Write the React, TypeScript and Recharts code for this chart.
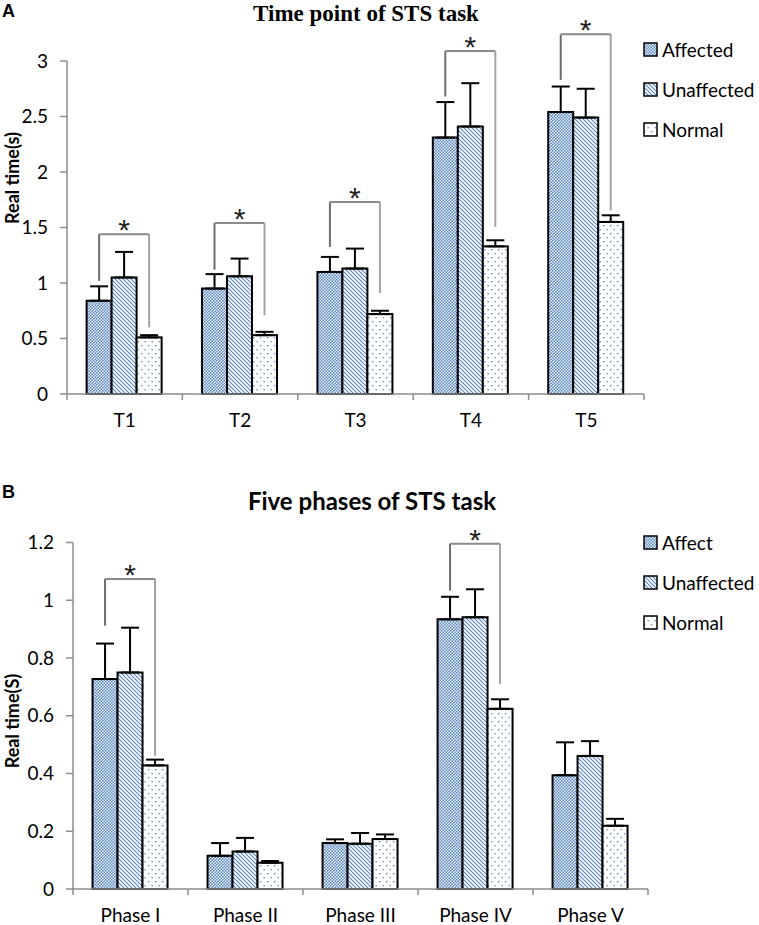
import React from 'react';
import { BarChart, Bar, XAxis, YAxis, ErrorBar } from 'recharts';

// panel A - time points
const timeCategories = ['T1', 'T2', 'T3', 'T4', 'T5'];
const timeAffected = [0.84, 0.95, 1.1, 2.31, 2.54];
const timeAffectedErr = [0.13, 0.13, 0.135, 0.32, 0.23];
const timeUnaffected = [1.05, 1.06, 1.13, 2.41, 2.49];
const timeUnaffectedErr = [0.23, 0.16, 0.18, 0.39, 0.26];
const timeNormal = [0.51, 0.53, 0.72, 1.33, 1.55];
const timeNormalErr = [0.02, 0.03, 0.03, 0.055, 0.06];
const timeBracketTop = [1.44, 1.54, 1.73, 3.09, 3.24];
const timeBracketLeft = [1.02, 1.12, 1.325, 2.68, 2.83];
const timeBracketRight = [0.6, 0.71, 0.91, 1.505, 1.655];
const timeTicks = [0, 0.5, 1, 1.5, 2, 2.5, 3];
const timeLegend = ['Affected', 'Unaffected', 'Normal'];

// panel B - phases
const phaseCategories = ['Phase I', 'Phase II', 'Phase III', 'Phase IV', 'Phase V'];
const phaseAffected = [0.727, 0.115, 0.159, 0.934, 0.394];
const phaseAffectedErr = [0.123, 0.044, 0.013, 0.078, 0.114];
const phaseUnaffected = [0.75, 0.13, 0.157, 0.941, 0.461];
const phaseUnaffectedErr = [0.155, 0.047, 0.037, 0.097, 0.051];
const phaseNormal = [0.428, 0.091, 0.173, 0.624, 0.219];
const phaseNormalErr = [0.02, 0.006, 0.016, 0.033, 0.024];
const phaseBracketTop = [1.074, null, null, 1.196, null];
const phaseBracketLeft = [0.912, null, null, 1.033, null];
const phaseBracketRight = [0.462, null, null, 0.71, null];
const phaseTicks = [0, 0.2, 0.4, 0.6, 0.8, 1, 1.2];
const phaseLegend = ['Affect', 'Unaffected', 'Normal'];

const FONT = 'Lato, "Open Sans", sans-serif';
const AXIS = '#8c8c8c';
const BLUE = '#5584c4';

function buildRows(cats, aff, affE, un, unE, nor, norE, bt, bl, br) {
  return cats.map((name, i) => ({
    name,
    affected: aff[i],
    unaffected: un[i],
    normal: nor[i],
    affectedErr: [0, affE[i]],
    unaffectedErr: [0, unE[i]],
    normalErr: [0, norE[i]],
    bracketTop: bt[i],
    bracketLeft: bl[i],
    bracketRight: br[i],
  }));
}

const timeRows = buildRows(timeCategories, timeAffected, timeAffectedErr, timeUnaffected, timeUnaffectedErr,
  timeNormal, timeNormalErr, timeBracketTop, timeBracketLeft, timeBracketRight);
const phaseRows = buildRows(phaseCategories, phaseAffected, phaseAffectedErr, phaseUnaffected, phaseUnaffectedErr,
  phaseNormal, phaseNormalErr, phaseBracketTop, phaseBracketLeft, phaseBracketRight);

function Patterns() {
  return (
    <svg width={0} height={0} style={{ position: 'absolute' }}>
      <defs>
        <pattern id="pat-aff" width={3} height={3} patternUnits="userSpaceOnUse">
          <rect width={3} height={3} fill="#eef2fa" />
          <rect x={0} y={0} width={1.5} height={1.5} fill={BLUE} />
          <rect x={1.5} y={1.5} width={1.5} height={1.5} fill={BLUE} />
        </pattern>
        <pattern id="pat-unaff" width={4} height={4} patternUnits="userSpaceOnUse">
          <rect width={4} height={4} fill="#fff" />
          <path d="M-1,-1 L5,5 M3,-1 L5,1 M-1,3 L1,5" stroke={BLUE} strokeWidth={1.1} />
        </pattern>
        <pattern id="pat-norm" width={7} height={8} patternUnits="userSpaceOnUse">
          <rect width={7} height={8} fill="#fff" />
          <rect x={1} y={1} width={1.3} height={1.3} fill={BLUE} />
          <rect x={4.5} y={5} width={1.3} height={1.3} fill={BLUE} />
        </pattern>
      </defs>
    </svg>
  );
}

// normal bar also carries the significance bracket, measured from its own scale
function NormalBar(props) {
  const { x, y, width, height, payload } = props;
  const rect = <rect x={x} y={y} width={width} height={height} fill="url(#pat-norm)" stroke="#000" strokeWidth={2} />;
  if (payload.bracketTop == null) return rect;
  const k = height / payload.normal;
  const base = y + height;
  const nx = x + width / 2;
  const ax = nx - 2 * width;
  const yt = base - payload.bracketTop * k;
  const yl = base - payload.bracketLeft * k;
  const yr = base - payload.bracketRight * k;
  return (
    <g>
      {rect}
      <line x1={ax} y1={yl} x2={ax} y2={yt} stroke="#6d6d6d" strokeWidth={2} />
      <line x1={ax} y1={yt} x2={nx} y2={yt} stroke="#8a8a8a" strokeWidth={2} />
      <line x1={nx} y1={yt} x2={nx} y2={yr} stroke="#a3a3a3" strokeWidth={2} />
      <text x={(ax + nx) / 2} y={yt + 6} textAnchor="middle" fontFamily="Liberation Sans, Arial, sans-serif"
        fontSize={30} fill="#222">*</text>
    </g>
  );
}

function makeTick(plotWidth, count) {
  return function CategoryTick(props) {
    const { x, y, payload } = props;
    const half = payload.offset || plotWidth / count / 2;
    const last = payload.index === count - 1;
    return (
      <g>
        <line x1={x - half} y1={y} x2={x - half} y2={y + 6} stroke={AXIS} strokeWidth={1.5} />
        {last && <line x1={x + half} y1={y} x2={x + half} y2={y + 6} stroke={AXIS} strokeWidth={1.5} />}
        <text x={x} y={y + 33} textAnchor="middle" fontFamily={FONT} fontSize={19} fill="#000">{payload.value}</text>
      </g>
    );
  };
}

function Legend({ names, top }) {
  const fills = ['url(#pat-aff)', 'url(#pat-unaff)', 'url(#pat-norm)'];
  return (
    <div style={{ position: 'absolute', left: 643, top, fontFamily: FONT, fontSize: 19 }}>
      {names.map((n, i) => (
        <div key={n} style={{ position: 'absolute', top: i * 40 - 11, left: 0, whiteSpace: 'nowrap', display: 'flex', alignItems: 'center', height: 22 }}>
          <svg width={15} height={15} style={{ marginRight: 4 }}>
            <rect x={1} y={1} width={13} height={13} fill={fills[i]} stroke="#000" strokeWidth={1.5} />
          </svg>
          <span>{n}</span>
        </div>
      ))}
    </div>
  );
}

function Panel({ rows, ticks, domain, yWidth, right, top, height, xHeight, bottom }) {
  const plotWidth = 759 - yWidth - right;
  return (
    <BarChart width={759} height={height} data={rows} margin={{ top, right, left: 0, bottom }}
      barCategoryGap="17%" barGap={0}>
      <XAxis dataKey="name" height={xHeight} tickSize={0} tickMargin={0} tickLine={false}
        axisLine={{ stroke: AXIS, strokeWidth: 1.5 }} tick={makeTick(plotWidth, rows.length)} interval={0} />
      <YAxis domain={domain} ticks={ticks} width={yWidth} tickSize={7} tickMargin={12} interval={0}
        axisLine={{ stroke: AXIS, strokeWidth: 1.5 }} tickLine={{ stroke: AXIS, strokeWidth: 1.5 }}
        tick={{ fontSize: 19, fontFamily: FONT, fill: '#000' }} />
      <Bar dataKey="affected" fill="url(#pat-aff)" stroke="#000" strokeWidth={2} isAnimationActive={false}>
        <ErrorBar dataKey="affectedErr" width={9} stroke="#000" strokeWidth={2} />
      </Bar>
      <Bar dataKey="unaffected" fill="url(#pat-unaff)" stroke="#000" strokeWidth={2} isAnimationActive={false}>
        <ErrorBar dataKey="unaffectedErr" width={9} stroke="#000" strokeWidth={2} />
      </Bar>
      <Bar dataKey="normal" shape={NormalBar} isAnimationActive={false}>
        <ErrorBar dataKey="normalErr" width={9} stroke="#000" strokeWidth={2} />
      </Bar>
    </BarChart>
  );
}

export default function App() {
  return (
    <div style={{ position: 'absolute', left: 0, top: 0, width: 759, height: 925, background: '#fff', overflow: 'hidden' }}>
      <Patterns />
      <div style={{ position: 'absolute', left: 0, top: 0 }}>
        <Panel rows={timeRows} ticks={timeTicks} domain={[0, 3]} yWidth={67} right={115}
          top={61} height={460} xHeight={40} bottom={26} />
      </div>
      <div style={{ position: 'absolute', left: 0, top: 480 }}>
        <Panel rows={phaseRows} ticks={phaseTicks} domain={[0, 1.2]} yWidth={73} right={111}
          top={62.5} height={445} xHeight={36} bottom={0} />
      </div>
      <Legend names={timeLegend} top={49} />
      <Legend names={phaseLegend} top={542} />
      <svg width={759} height={925} style={{ position: 'absolute', left: 0, top: 0, pointerEvents: 'none' }}>
        <text x={2} y={17} fontFamily="Liberation Sans, Arial, sans-serif" fontWeight="bold" fontSize={18}>A</text>
        <text x={366} y={21} textAnchor="middle" fontFamily="Liberation Serif, Times New Roman, serif" fontWeight="bold" fontSize={23}>Time point of STS task</text>
        <text x={2} y={498} fontFamily="Liberation Sans, Arial, sans-serif" fontWeight="bold" fontSize={18}>B</text>
        <text x={372} y={510} textAnchor="middle" fontFamily={FONT} fontWeight="bold" fontSize={24}>Five phases of STS task</text>
        <text transform="translate(19,178) rotate(-90)" textAnchor="middle" fontFamily={FONT} fontWeight="bold" fontSize={18}>Real time(s)</text>
        <text transform="translate(19,721) rotate(-90)" textAnchor="middle" fontFamily={FONT} fontWeight="bold" fontSize={18}>Real time(S)</text>
      </svg>
    </div>
  );
}
